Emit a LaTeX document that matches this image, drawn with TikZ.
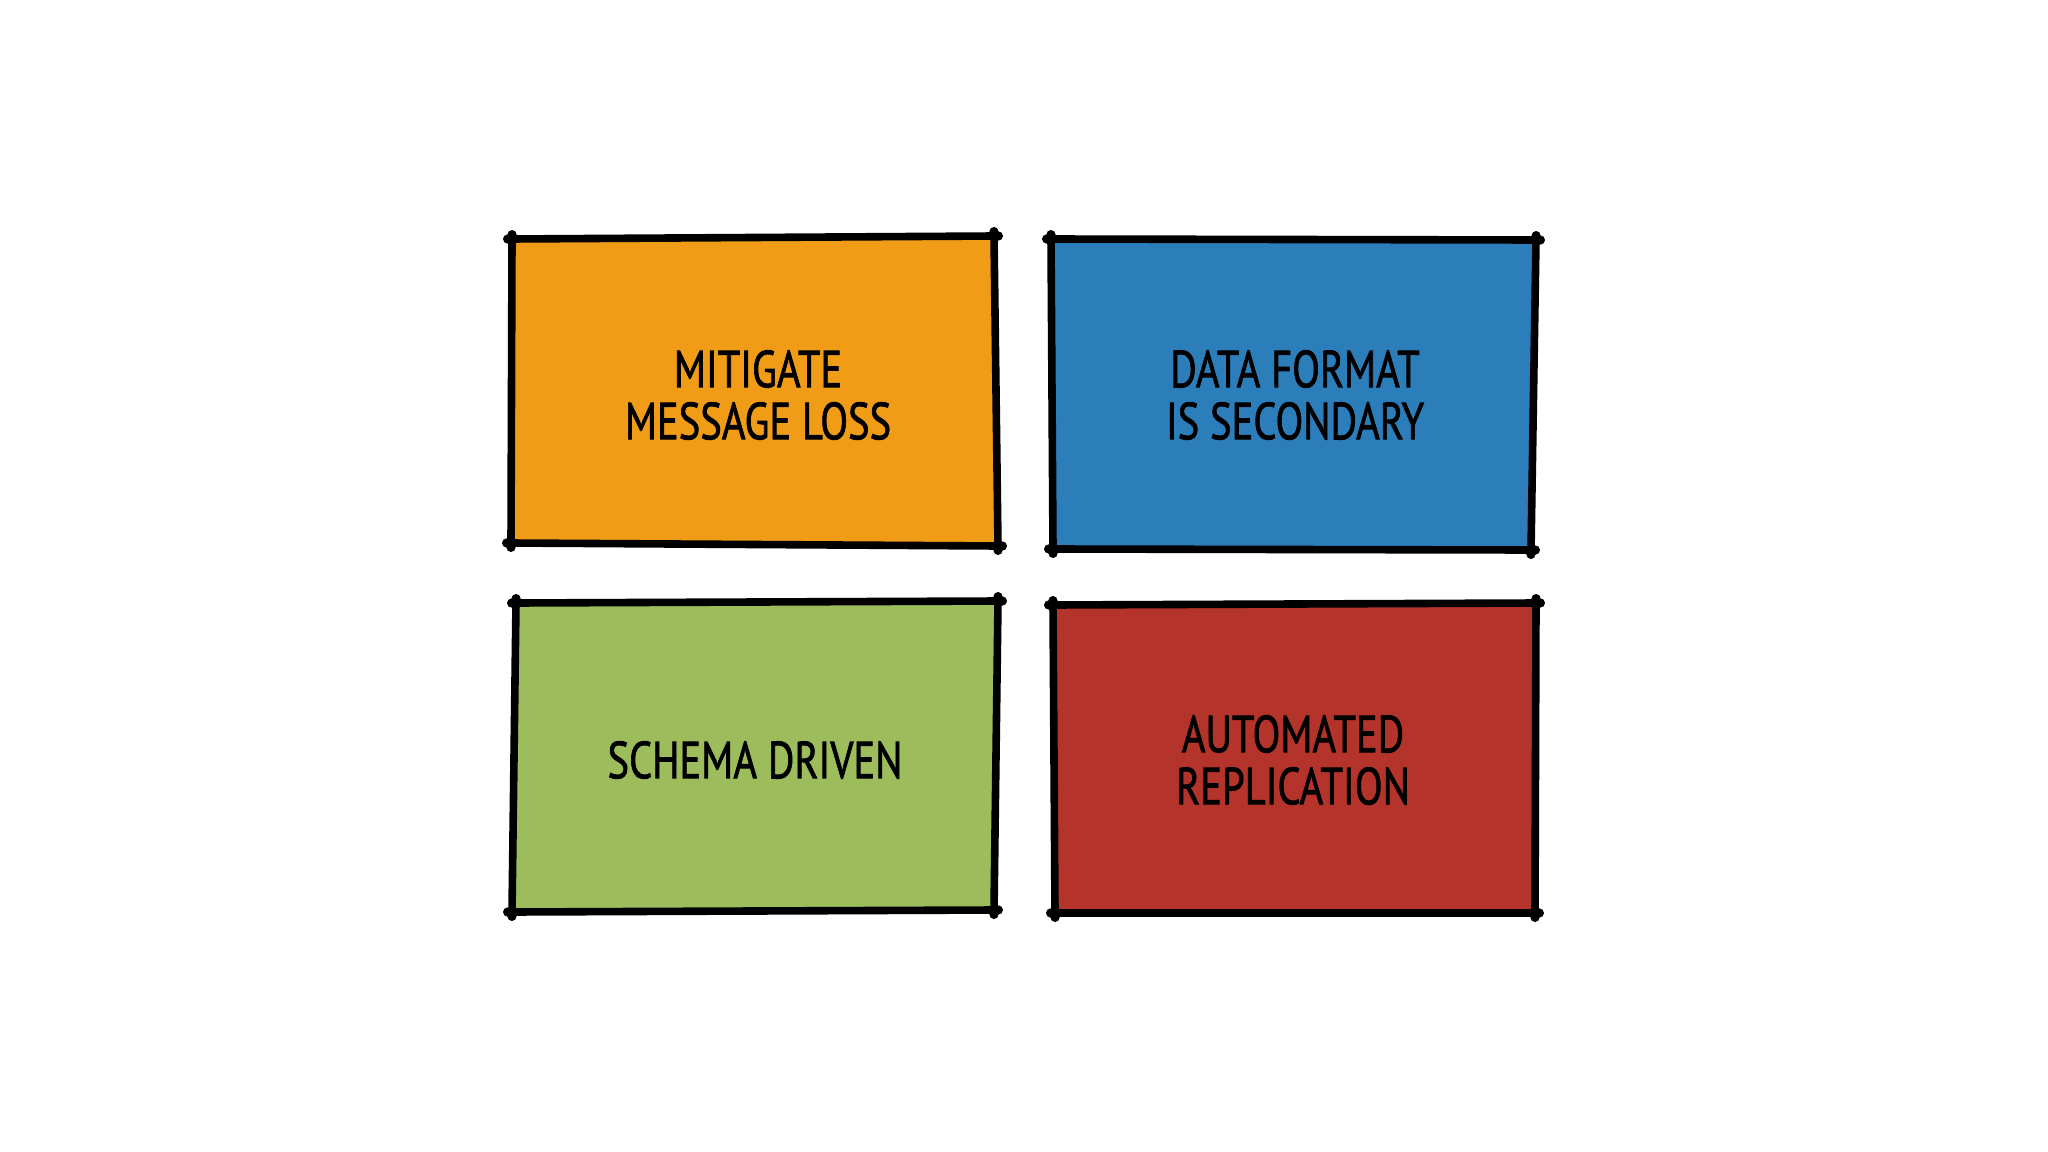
\documentclass[tikz,border=0pt]{standalone}
\usepackage{fontspec}
\setmainfont{PT Sans}
\newfontfamily\lblfont{PT Sans}[FakeBold=1.6]
\usetikzlibrary{calc}
\definecolor{cOrange}{HTML}{F19C17}
\definecolor{cBlue}{HTML}{2C7EBB}
\definecolor{cGreen}{HTML}{9DBC5B}
\definecolor{cRed}{HTML}{B4332B}
\newcommand{\sq}[1]{\scalebox{0.78}[1]{#1}}
\tikzset{
  edge/.style={line width=0.38cm, line cap=round, shorten <=-0.22cm, shorten >=-0.22cm},
  lbl/.style={font=\fontsize{74pt}{74pt}\lblfont, align=center, inner sep=0pt, text=black},
}
\newcommand{\sketchbox}[5]{%
  \fill[#1] (#2) -- (#3) -- (#4) -- (#5) -- cycle;
  \draw[edge] (#2) -- (#3);
  \draw[edge] (#3) -- (#4);
  \draw[edge] (#4) -- (#5);
  \draw[edge] (#5) -- (#2);
  \foreach \a/\b in {#2/#3,#3/#4,#4/#5,#5/#2}{
    \fill ($(\a)!-0.22cm!(\b)$) circle (0.23cm);
    \fill ($(\b)!-0.22cm!(\a)$) circle (0.23cm);
  }
}
\begin{document}
\begin{tikzpicture}[x=0.05cm, y=-0.05cm]
\fill[white] (0,0) rectangle (2048,1152);
\useasboundingbox (0,0) rectangle (2048,1152);
% orange
\coordinate (o1) at (512,239); \coordinate (o2) at (994,236);
\coordinate (o3) at (998,546); \coordinate (o4) at (511,543);
% blue
\coordinate (b1) at (1051,239); \coordinate (b2) at (1536,240);
\coordinate (b3) at (1531,550); \coordinate (b4) at (1053,549);
% green
\coordinate (g1) at (516,603); \coordinate (g2) at (998,601);
\coordinate (g3) at (994,910); \coordinate (g4) at (512,912);
% red
\coordinate (r1) at (1053,605); \coordinate (r2) at (1536,603);
\coordinate (r3) at (1535,913); \coordinate (r4) at (1055,913);

\sketchbox{cOrange}{o1}{o2}{o3}{o4}
\sketchbox{cBlue}{b1}{b2}{b3}{b4}
\sketchbox{cGreen}{g1}{g2}{g3}{g4}
\sketchbox{cRed}{r1}{r2}{r3}{r4}

\node[lbl] (tOrange) at (758,395) {\sq{MITIGATE}\\\sq{MESSAGE LOSS}};
\node[lbl] (tBlue) at (1295,395) {\sq{DATA FORMAT}\\\sq{IS SECONDARY}};
\node[lbl] (tGreen) at (755,760) {\sq{SCHEMA DRIVEN}};
\node[lbl] (tRed) at (1293,760) {\sq{AUTOMATED}\\\sq{REPLICATION}};
\end{tikzpicture}
\end{document}
